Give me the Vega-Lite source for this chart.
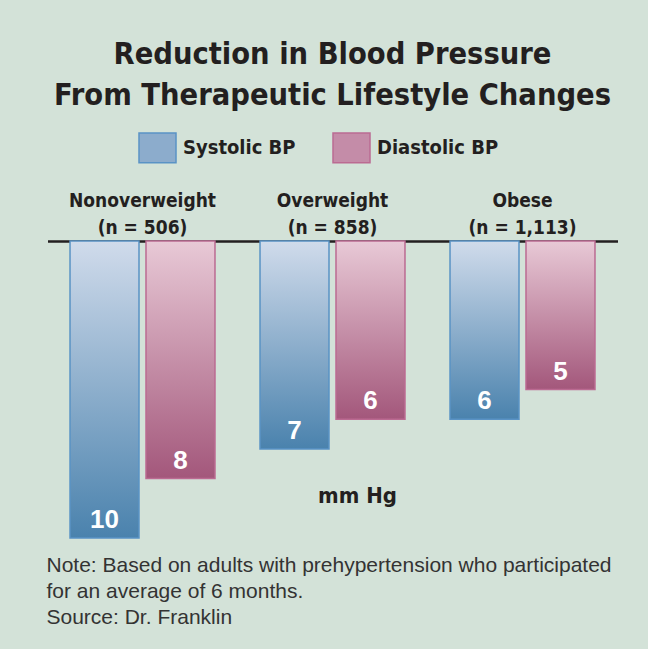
{
  "$schema": "https://vega.github.io/schema/vega-lite/v6.json",
  "width": 570,
  "height": 297,
  "autosize": {"type": "none"},
  "padding": {"left": 47.5, "top": 241, "right": 30.5, "bottom": 111},
  "background": "#d3e2d8",
  "config": {
    "view": {"stroke": null},
    "font": "DejaVu Sans Condensed, sans-serif"
  },
  "title": {
    "text": ["Reduction in Blood Pressure", "From Therapeutic Lifestyle Changes"],
    "font": "DejaVu Sans Condensed, sans-serif",
    "fontSize": 30.5,
    "fontWeight": "bold",
    "lineHeight": 41,
    "color": "#231f20",
    "anchor": "middle",
    "offset": 17
  },
  "datasets": {
    "bp": [
      {"group": "Nonoverweight (n = 506)", "series": "Systolic BP", "value": 10},
      {"group": "Nonoverweight (n = 506)", "series": "Diastolic BP", "value": 8},
      {"group": "Overweight (n = 858)", "series": "Systolic BP", "value": 7},
      {"group": "Overweight (n = 858)", "series": "Diastolic BP", "value": 6},
      {"group": "Obese (n = 1,113)", "series": "Systolic BP", "value": 6},
      {"group": "Obese (n = 1,113)", "series": "Diastolic BP", "value": 5}
    ],
    "unit": [
      {"group": "Overweight (n = 858)", "label": "mm Hg", "pos": 8.6}
    ]
  },
  "layer": [
    {
      "data": {"name": "bp"},
      "mark": {"type": "bar", "opacity": 0},
      "encoding": {
        "x": {
          "field": "group", "type": "nominal",
          "scale": {"domain": ["Nonoverweight (n = 506)", "Overweight (n = 858)", "Obese (n = 1,113)"], "paddingInner": 0.237, "paddingOuter": 0.1185},
          "axis": {
            "orient": "top", "title": null, "ticks": false, "tickSize": 0,
            "domainColor": "#231f20", "domainWidth": 2.5,
            "labelFont": "DejaVu Sans Condensed, sans-serif",
            "labelFontSize": 19, "labelFontWeight": "bold", "labelColor": "#231f20",
            "labelLineHeight": 27, "labelPadding": 31, "labelAngle": 0, "labelLimit": 0,
            "labelExpr": "[slice(datum.label, 0, indexof(datum.label, ' (')), slice(datum.label, indexof(datum.label, ' (') + 1)]"
          }
        },
        "xOffset": {
          "field": "series", "type": "nominal",
          "scale": {"domain": ["Systolic BP", "Diastolic BP"], "paddingInner": 0.092, "paddingOuter": 0}
        },
        "y": {
          "field": "value", "type": "quantitative",
          "scale": {"domain": [0, 10], "reverse": true, "nice": false},
          "axis": null
        },
        "color": {
          "field": "series", "type": "nominal",
          "scale": {"domain": ["Systolic BP", "Diastolic BP"], "range": ["#8caccc", "#c48ca8"]},
          "legend": {
            "orient": "none", "legendX": 90.5, "legendY": -113,
            "direction": "horizontal", "title": null, "padding": 0,
            "symbolType": "M-1,-0.8H1V0.8H-1Z", "symbolSize": 1369,
            "labelFont": "DejaVu Sans Condensed, sans-serif",
            "labelFontSize": 20, "labelFontWeight": "bold", "labelColor": "#231f20",
            "labelOffset": 6, "columnPadding": 34, "labelLimit": 0,
            "encode": {"symbols": {"update": {
              "opacity": {"value": 1},
              "fillOpacity": {"value": 1},
              "strokeOpacity": {"value": 1},
              "stroke": {"signal": "datum.value === 'Systolic BP' ? '#5a93c5' : '#bb6b92'"},
              "strokeWidth": {"value": 1.5}
            }}}
          }
        }
      }
    },
    {
      "data": {"name": "bp"},
      "transform": [{"filter": "datum.series === 'Systolic BP'"}],
      "mark": {"type": "bar", "stroke": "#5a93c5", "strokeWidth": 1.5,
        "color": {"gradient": "linear", "x1": 0, "y1": 0, "x2": 0, "y2": 1, "stops": [{"offset": 0, "color": "#d0dbeb"}, {"offset": 1, "color": "#4a82ad"}]}},
      "encoding": {
        "x": {"field": "group", "type": "nominal", "axis": null},
        "xOffset": {"field": "series", "type": "nominal"},
        "y": {"field": "value", "type": "quantitative"}
      }
    },
    {
      "data": {"name": "bp"},
      "transform": [{"filter": "datum.series === 'Diastolic BP'"}],
      "mark": {"type": "bar", "stroke": "#bb6b92", "strokeWidth": 1.5,
        "color": {"gradient": "linear", "x1": 0, "y1": 0, "x2": 0, "y2": 1, "stops": [{"offset": 0, "color": "#e8c9d6"}, {"offset": 1, "color": "#a3577b"}]}},
      "encoding": {
        "x": {"field": "group", "type": "nominal", "axis": null},
        "xOffset": {"field": "series", "type": "nominal"},
        "y": {"field": "value", "type": "quantitative"}
      }
    },
    {
      "data": {"name": "bp"},
      "mark": {"type": "text", "color": "white", "font": "Liberation Sans, sans-serif", "fontSize": 26, "fontWeight": "bold", "align": "center", "baseline": "alphabetic", "dy": -10},
      "encoding": {
        "x": {"field": "group", "type": "nominal", "axis": null},
        "xOffset": {"field": "series", "type": "nominal"},
        "y": {"field": "value", "type": "quantitative"},
        "text": {"field": "value", "type": "quantitative"}
      }
    },
    {
      "data": {"name": "unit"},
      "mark": {"type": "text", "color": "#231f20", "font": "DejaVu Sans Condensed, sans-serif", "fontSize": 22, "fontWeight": "bold", "align": "center", "baseline": "middle", "dx": 25},
      "encoding": {
        "x": {
          "field": "group", "type": "nominal",
          "axis": {
            "orient": "bottom", "labels": false, "ticks": false, "domain": false,
            "title": ["Note: Based on adults with prehypertension who participated", "for an average of 6 months.", "Source: Dr. Franklin"],
            "titleFont": "Liberation Sans, sans-serif", "titleFontSize": 21, "titleFontWeight": "normal",
            "titleColor": "#333333", "titleLineHeight": 26, "titleAnchor": "start", "titleAlign": "left",
            "titlePadding": 16, "titleX": -1.5
          }
        },
        "y": {"field": "pos", "type": "quantitative"},
        "text": {"field": "label"}
      }
    }
  ],
  "resolve": {"axis": {"x": "independent"}}
}
